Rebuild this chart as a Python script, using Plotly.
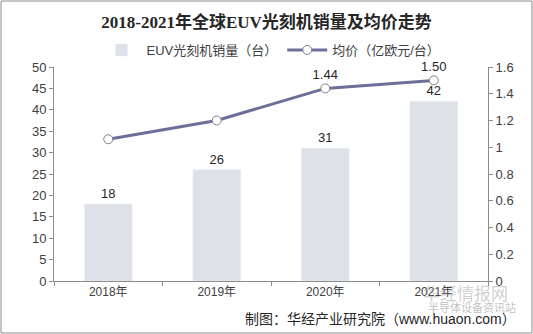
import plotly.graph_objects as go

years = ["2018年", "2019年", "2020年", "2021年"]
sales = [18, 26, 31, 42]
price = [1.06, 1.20, 1.44, 1.50]
price_labels = ["", "", "1.44", "1.50"]

W, H = 533, 334
L, R, T, B = 54, 45, 67, 53
pw, ph = W - L - R, H - T - B

def px(x):
    return (x - L) / pw

def py(y):
    return (H - B - y) / ph

fig = go.Figure()
fig.add_trace(go.Bar(
    x=years, y=sales, name="EUV光刻机销量（台）",
    marker=dict(color="#dfe1e9"), width=0.44,
    text=[str(v) for v in sales], textposition="outside",
    textfont=dict(size=13, color="#262626", family="Liberation Sans"),
    cliponaxis=False,
))
fig.add_trace(go.Scatter(
    x=years, y=price, name="均价（亿欧元/台）", yaxis="y2",
    mode="lines+markers+text",
    line=dict(color="#6c7098", width=3),
    marker=dict(size=9, color="white", line=dict(color="#7f7f8f", width=1)),
    text=price_labels, textposition="top center",
    textfont=dict(size=13, color="#262626", family="Liberation Sans"),
    cliponaxis=False,
))

fig.update_layout(
    width=W, height=H,
    margin=dict(l=L, r=R, t=T, b=B),
    paper_bgcolor="white", plot_bgcolor="white",
    font=dict(family="Liberation Sans, Noto Sans CJK SC", color="#404040", size=12),
    title=dict(
        text="<b>2018-2021年全球EUV光刻机销量及均价走势</b>",
        x=0.5, xanchor="center", y=1 - 22 / H, yanchor="middle",
        font=dict(size=17, color="#262626", family="Liberation Serif, Noto Sans CJK SC"),
    ),
    showlegend=True,
    legend=dict(orientation="h", x=0.5, xanchor="center", y=py(50), yanchor="middle",
                font=dict(size=13, color="#404040"), bgcolor="rgba(0,0,0,0)",
                itemwidth=40, tracegroupgap=0),
    bargap=0.56,
    xaxis=dict(
        showline=True, linecolor="#8c8c8c", linewidth=1,
        ticks="outside", ticklen=4, tickcolor="#8c8c8c", tickson="boundaries",
        tickfont=dict(size=12, color="#404040"), showgrid=False,
    ),
    yaxis=dict(
        range=[0, 50], dtick=5, showline=True, linecolor="#8c8c8c", linewidth=1,
        ticks="outside", ticklen=4, tickcolor="#8c8c8c", showgrid=False, zeroline=False,
        tickfont=dict(size=13, color="#404040"),
    ),
    yaxis2=dict(
        range=[0, 1.6], dtick=0.2, overlaying="y", side="right",
        showline=True, linecolor="#8c8c8c", linewidth=1,
        ticks="outside", ticklen=4, tickcolor="#8c8c8c", showgrid=False, zeroline=False,
        tickfont=dict(size=13, color="#404040"),
    ),
    shapes=[dict(type="rect", xref="paper", yref="paper",
                 x0=px(1), x1=px(532), y0=py(333), y1=py(1),
                 line=dict(color="#8c8c8c", width=1))],
    annotations=[
        dict(text="华经情报网", xref="paper", yref="paper", x=px(510), y=py(292),
             xanchor="right", yanchor="middle", showarrow=False,
             font=dict(size=17, color="rgba(150,150,150,0.45)", family="Noto Sans CJK SC")),
        dict(text="半导体设备资讯站", xref="paper", yref="paper", x=px(518), y=py(307),
             xanchor="right", yanchor="middle", showarrow=False,
             font=dict(size=11, color="rgba(150,150,150,0.6)", family="Noto Sans CJK SC")),
        dict(text="制图：华经产业研究院（www.huaon.com）", xref="paper", yref="paper",
             x=px(518), y=py(319), xanchor="right", yanchor="middle", showarrow=False,
             font=dict(size=14, color="#262626", family="Liberation Sans, Noto Sans CJK SC")),
    ],
)

fig.write_html("out.html")
